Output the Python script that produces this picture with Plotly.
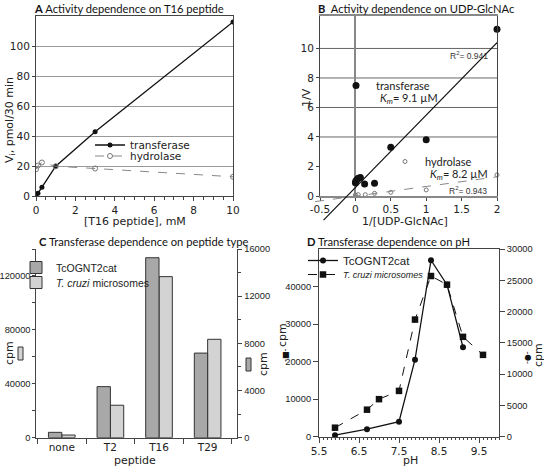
import numpy as np
import plotly.graph_objects as go

W, H = 544, 466

# ---------------- data ----------------
# Panel A: activity vs [T16 peptide]
a_conc = [0, 0.1, 0.3, 1, 3, 10]
a_transferase = [0, 2, 6, 20, 43, 116]
a_hydrolase = [18, 20.5, 22.5, 20, 18.5, 13]

# Panel B: Lineweaver-Burk, 1/V vs 1/[UDP-GlcNAc]
b_inv_s_tr = [0, 0.005, 0.02, 0.04, 0.07, 0.13, 0.27, 0.5, 1, 2]
b_inv_v_tr = [0.9, 1.0, 1.1, 1.2, 1.25, 0.82, 0.87, 3.3, 3.82, 11.3]
b_inv_s_hy = [0, 0.04, 0.14, 0.27, 0.5, 1, 2]
b_inv_v_hy = [0.07, 0.09, 0.09, 0.18, 0.25, 0.41, 1.43]
b_fit_span_tr = [-0.45, 2]
b_fit_span_hy = [-0.57, 2]
b_r2 = ["0.941", "0.943"]
b_km = ["9.1", "8.2"]
b_grid = [4, 6, 8, 10]

# Panel C: transferase vs peptide type
c_peptides = ["none", "T2", "T16", "T29"]
c_tcognt2cat = [455, 4330, 15260, 7175]      # right axis
c_microsomes = [1990, 24100, 119500, 73000]  # left axis

# Panel D: transferase vs pH
d_ph_tc = [5.9, 6.7, 7.5, 7.9, 8.3, 8.7, 9.1]
d_tc = [250, 1200, 2400, 12300, 28200, 24300, 14300]          # right axis
d_ph_mic = [5.9, 6.7, 7.0, 7.5, 7.9, 8.3, 8.7, 9.1, 9.6]
d_mic = [2400, 7200, 10000, 12200, 31200, 42800, 40500, 26600, 21800]  # left axis


def px(x):
    return x / W


def py(y):
    return 1 - y / H


TICKF = dict(family="DejaVu Sans", size=10.5, color="#222")
ARIAL = dict(family="Liberation Sans", size=9.3, color="#222")
LINE = "#444"

# domains (pixels -> paper)
A_X = [px(36), px(233)]
A_Y = [py(196.3), py(16)]
B_X = [px(320), px(497)]
B_Y = [py(196), py(16)]
C_X = [px(36), px(237.3)]
C_Y = [py(437.7), py(249)]
D_X = [px(319), px(499)]
D_Y = [py(436.7), py(249)]

B_XR = [-0.5, 2]
B_YR = [0, 12.2]
# extended invisible axes for fit lines that run beyond the frame
B_XR_EXT = [-0.6, 2]
B_YR_EXT = [-2.0, 12.2]
bx_ext0 = B_X[0] - (B_XR[0] - B_XR_EXT[0]) / (B_XR[1] - B_XR[0]) * (B_X[1] - B_X[0])
by_ext0 = B_Y[0] - (B_YR[0] - B_YR_EXT[0]) / (B_YR[1] - B_YR[0]) * (B_Y[1] - B_Y[0])

fig = go.Figure()

# ---- A ----
fig.add_trace(go.Scatter(x=a_conc, y=a_transferase, mode="lines+markers", name="transferase",
                         line=dict(color="#111", width=1.3),
                         marker=dict(symbol="circle", size=5, color="#111"),
                         xaxis="x", yaxis="y", legend="legend"))
fig.add_trace(go.Scatter(x=a_conc, y=a_hydrolase, mode="lines+markers", name="hydrolase",
                         line=dict(color="#888", width=1, dash="dash"),
                         marker=dict(symbol="circle-open", size=5, color="#777"),
                         xaxis="x", yaxis="y", legend="legend6"))

# ---- B ----
tr_coef = np.polyfit(b_inv_s_tr, b_inv_v_tr, 1)
hy_coef = np.polyfit(b_inv_s_hy, b_inv_v_hy, 1)
fx_tr = np.array(b_fit_span_tr)
fx_hy = np.array(b_fit_span_hy)
fig.add_trace(go.Scatter(x=fx_tr, y=np.polyval(tr_coef, fx_tr), mode="lines", showlegend=False,
                         line=dict(color="#111", width=1.2), xaxis="x5", yaxis="y7"))
fig.add_trace(go.Scatter(x=fx_hy, y=np.polyval(hy_coef, fx_hy), mode="lines", showlegend=False,
                         line=dict(color="#888", width=1, dash="dash"), xaxis="x5", yaxis="y7"))
fig.add_trace(go.Scatter(x=b_inv_s_tr, y=b_inv_v_tr, mode="markers", name="transferase",
                         marker=dict(symbol="circle", size=7, color="#111"),
                         xaxis="x2", yaxis="y2", legend="legend2", cliponaxis=False))
fig.add_trace(go.Scatter(x=b_inv_s_hy, y=b_inv_v_hy, mode="markers", name="hydrolase",
                         marker=dict(symbol="circle-open", size=4, color="#777"),
                         xaxis="x2", yaxis="y2", legend="legend3", cliponaxis=False))

# ---- C ----
fig.add_trace(go.Bar(x=c_peptides, y=c_microsomes, name="<i>T. cruzi</i> microsomes",
                     marker=dict(color="#d3d3d3", line=dict(color="#333", width=1)),
                     width=0.274, offset=0.0, xaxis="x3", yaxis="y3", legend="legend7"))
fig.add_trace(go.Bar(x=c_peptides, y=c_tcognt2cat, name="TcOGNT2cat",
                     marker=dict(color="#a8a8a8", line=dict(color="#333", width=1)),
                     width=0.274, offset=-0.274, xaxis="x3", yaxis="y4", legend="legend4"))

# ---- D ----
fig.add_trace(go.Scatter(x=d_ph_tc, y=d_tc, mode="lines+markers",
                         name="TcOGNT2cat",
                         line=dict(color="#111", width=1.3),
                         marker=dict(symbol="circle", size=6, color="#111"),
                         xaxis="x4", yaxis="y6", legend="legend5", cliponaxis=False))
fig.add_trace(go.Scatter(x=d_ph_mic, y=d_mic, mode="lines+markers",
                         name="<i>T. cruzi microsomes</i>",
                         line=dict(color="#111", width=1, dash="dash"),
                         marker=dict(symbol="square", size=6.5, color="#111"),
                         xaxis="x4", yaxis="y5", legend="legend8", cliponaxis=False))

box = dict(showline=True, linecolor=LINE, linewidth=1, mirror=True, zeroline=False)


def leg(x, top, font):
    return dict(x=px(x), y=py(top), xanchor="left", yanchor="top", bgcolor="rgba(0,0,0,0)",
                font=font, borderwidth=0)


LEG_DV = dict(family="DejaVu Sans", size=10.5, color="#222")
LEG_LATO = dict(family="Lato", size=11, color="#222")
LEG_AR = dict(family="Liberation Sans", size=10.5, color="#222")

layout = dict(
    width=W, height=H, autosize=False,
    margin=dict(l=0, r=0, t=0, b=0, autoexpand=False),
    paper_bgcolor="white", plot_bgcolor="rgba(0,0,0,0)",
    font=dict(family="DejaVu Sans", size=11, color="#222"),
    barmode="overlay",
    # A
    xaxis=dict(domain=A_X, anchor="y", range=[0, 10], dtick=2, tick0=0, ticks="outside", ticklen=4,
               tickcolor=LINE, tickfont=TICKF, showgrid=False,
               minor=dict(dtick=0.5, ticks="outside", ticklen=2.5, tickcolor=LINE), **box),
    yaxis=dict(domain=A_Y, anchor="x", range=[0, 120], tickvals=[0, 20, 40, 60, 80, 100],
               ticks="outside", ticklen=3, tickcolor=LINE, tickfont=TICKF,
               showgrid=True, gridcolor="#9a9a9a", gridwidth=1, **box),
    # B
    xaxis2=dict(domain=B_X, anchor="y2", range=B_XR, tickvals=[-0.5, 0, 0.5, 1, 1.5, 2],
                ticktext=["-0.5", "0", "0.5", "1", "1.5", "2"], ticks="outside", ticklen=3,
                tickcolor=LINE, tickfont=TICKF, showgrid=False, showline=True, linecolor="#888",
                linewidth=1.5, mirror=True, zeroline=True, zerolinecolor="#888", zerolinewidth=2),
    yaxis2=dict(domain=B_Y, anchor="x2", range=B_YR, tickvals=[0, 2, 4, 6, 8, 10],
                ticks="outside", ticklen=3, tickcolor=LINE, tickfont=TICKF, showgrid=False,
                showline=True, linecolor=LINE, linewidth=1, mirror=True, zeroline=False),
    xaxis5=dict(domain=[bx_ext0, B_X[1]], anchor="y7", range=B_XR_EXT, visible=False),
    yaxis7=dict(domain=[by_ext0, B_Y[1]], anchor="x5", range=B_YR_EXT, visible=False),
    # C
    xaxis3=dict(domain=C_X, anchor="y3", type="category", range=[-0.53, 3.61],
                tickson="boundaries", ticks="outside", ticklen=5, tickcolor=LINE, tickfont=TICKF,
                showgrid=False, showline=True, linecolor=LINE, linewidth=1.2),
    yaxis3=dict(domain=C_Y, anchor="x3", range=[0, 140000], dtick=40000, tick0=0, tickformat="d",
                ticks="outside", ticklen=2.5, tickcolor=LINE, tickfont=ARIAL, showgrid=False,
                showline=True, linecolor=LINE, linewidth=1.2, zeroline=False,
                minor=dict(dtick=20000, ticks="outside", ticklen=2.5, tickcolor=LINE)),
    yaxis4=dict(overlaying="y3", anchor="x3", side="right", range=[0, 16000], dtick=4000, tick0=0,
                tickformat="d", ticks="outside", ticklen=4, tickcolor=LINE, tickfont=ARIAL,
                showgrid=False, showline=True, linecolor=LINE, linewidth=1.2, zeroline=False,
                minor=dict(dtick=2000, ticks="outside", ticklen=3, tickcolor=LINE)),
    # D
    xaxis4=dict(domain=D_X, anchor="y5", range=[5.5, 10], dtick=1, tick0=5.5, ticks="outside",
                ticklen=5, tickcolor=LINE, tickfont=TICKF, showgrid=False,
                minor=dict(dtick=0.1, tick0=5.5, ticks="outside", ticklen=2.5, tickcolor=LINE), **box),
    yaxis5=dict(domain=D_Y, anchor="x4", range=[0, 50000], tickvals=[0, 10000, 20000, 30000, 40000],
                tickformat="d", ticks="outside", ticklen=5, tickcolor=LINE, tickfont=ARIAL,
                showgrid=False, **box),
    yaxis6=dict(overlaying="y5", anchor="x4", side="right", range=[0, 30000], dtick=5000, tick0=0,
                tickformat="d", ticks="outside", ticklen=5, tickcolor=LINE, tickfont=ARIAL,
                showgrid=False, showline=True, linecolor=LINE, linewidth=1, zeroline=False),
    # legends: one entry each, so every entry sits where the reference has it
    legend=leg(90, 130.5, LEG_DV),
    legend6=leg(90, 141.5, LEG_DV),
    legend2=leg(336, 71, LEG_LATO),
    legend3=leg(385, 147, LEG_LATO),
    legend4=leg(16, 253, LEG_AR),
    legend7=leg(16, 268, LEG_AR),
    legend5=leg(303, 246, dict(family="Liberation Sans", size=11.5, color="#222")),
    legend8=leg(303, 260, dict(family="Liberation Sans", size=9, color="#222")),
)

# B gridlines (only at selected levels)
shapes = []
for v in b_grid:
    shapes.append(dict(type="line", xref="x2 domain", yref="y2", x0=0, x1=1, y0=v, y1=v,
                       line=dict(color="#666", width=1), layer="below"))
# C axis-title colour keys
shapes.append(dict(type="rect", xref="paper", yref="paper", x0=px(18), x1=px(23), y0=py(360), y1=py(347),
                   fillcolor="#d3d3d3", line=dict(color="#333", width=1)))
shapes.append(dict(type="rect", xref="paper", yref="paper", x0=px(246), x1=px(251), y0=py(371), y1=py(358),
                   fillcolor="#a8a8a8", line=dict(color="#333", width=1)))
layout["shapes"] = shapes

TITLEF = dict(family="Lato", size=11.2, color="#111")
AXT = dict(family="DejaVu Sans", size=11, color="#222")


def ann(text, x, y, font, xanchor="center", yanchor="middle", angle=0):
    return dict(text=text, x=px(x), y=py(y), xref="paper", yref="paper", showarrow=False,
                xanchor=xanchor, yanchor=yanchor, textangle=angle, font=font)


annotations = [
    ann("<b>A</b> Activity dependence on T16 peptide", 32, 8, TITLEF, xanchor="left"),
    ann("<b>B</b>  Activity dependence on UDP-GlcNAc", 316, 8, TITLEF, xanchor="left"),
    ann("<b>C</b> Transferase dependence on peptide type", 37, 241, TITLEF, xanchor="left"),
    ann("<b>D</b> Transferase dependence on pH", 305, 241, TITLEF, xanchor="left"),
    ann("[T16 peptide], mM", 135, 221.5, AXT),
    ann("V<sub>i</sub>, pmol/30 min", 10, 120, AXT, angle=-90),
    ann("1/[UDP-GlcNAc]", 405, 221.5, AXT),
    ann("1/V", 306, 98, AXT, angle=-90),
    ann("peptide", 135, 460, AXT),
    ann("cpm", 9, 353, AXT, angle=-90),
    ann("cpm", 263, 364, AXT, angle=-90),
    ann("pH", 410, 460, AXT),
    ann("cpm", 282, 335, AXT, angle=-90),
    ann("cpm", 538, 355, AXT, angle=-90),
    ann("-■-", 285, 356, dict(family="DejaVu Sans", size=8, color="#111"), angle=-90),
    ann("-●-", 527, 358, dict(family="DejaVu Sans", size=8, color="#111"), angle=-90),
    ann("<i>K<sub>m</sub></i>= " + b_km[0] + " µM", 378, 99, dict(family="Lato", size=11, color="#222"),
        xanchor="left"),
    ann("<i>K<sub>m</sub></i>= " + b_km[1] + " µM", 428, 174, dict(family="Lato", size=11, color="#222"),
        xanchor="left"),
    ann("R<sup>2</sup>= " + b_r2[0], 490, 55, dict(family="Liberation Sans", size=8.5, color="#333"),
        xanchor="right"),
    ann("R<sup>2</sup>= " + b_r2[1], 489, 190, dict(family="Liberation Sans", size=8.5, color="#333"),
        xanchor="right"),
]
layout["annotations"] = annotations

fig.update_layout(**layout)
# remove the browser's default 8px page margin so the figure sits at the window origin
fig.write_html("out.html", config={"displayModeBar": False},
               post_script="document.body.style.margin='0';")
